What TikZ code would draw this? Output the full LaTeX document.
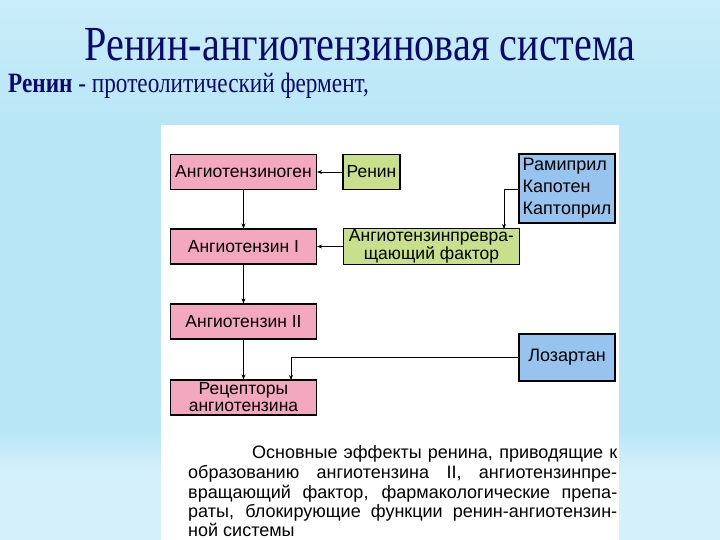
\documentclass[tikz,border=0pt]{standalone}
\usepackage{fontspec}
\setmainfont{Liberation Serif}
\newfontfamily\boxfont{Liberation Sans}
\newfontfamily\capfont{Liberation Sans}
\usetikzlibrary{arrows.meta}
\definecolor{navy}{RGB}{10,10,110}
\definecolor{pinkbox}{RGB}{244,168,192}
\definecolor{greenbox}{RGB}{200,224,140}
\definecolor{bluebox}{RGB}{150,196,238}
\definecolor{bg0}{RGB}{190,230,245}
\definecolor{bg1}{RGB}{215,240,250}
\definecolor{bg2}{RGB}{240,249,252}
\definecolor{bg3}{RGB}{200,236,248}
\definecolor{bg4}{RGB}{184,230,246}
\definecolor{bg5}{RGB}{212,240,250}
\pgfdeclareverticalshading{bgsh}{100bp}{%
  color(0bp)=(bg4); color(16.7bp)=(bg4); color(20.4bp)=(bg5); color(31.5bp)=(bg5);
  color(35.2bp)=(bg4); color(63bp)=(bg4); color(74bp)=(bg3); color(82.4bp)=(bg2);
  color(92.6bp)=(bg1); color(100bp)=(bg0)}
\tikzset{
  box/.style={draw=black, line width=1.2pt, minimum height=35pt, inner sep=2pt, align=center,
    font=\boxfont\fontsize{17.5}{16}\selectfont},
  pinkb/.style={box, fill=pinkbox, minimum width=146pt},
  arr/.style={line width=0.9pt, -{Stealth[length=5pt,width=4pt]}},
}
\begin{document}
\begin{tikzpicture}[x=1pt,y=-1pt]
\useasboundingbox (0,0) rectangle (720,540);
\shade[shading=bgsh] (0,0) rectangle (720,540);
\fill[white] (161,125) rectangle (619,540);

\node[anchor=base, text=navy, inner sep=0pt, font=\fontsize{49}{50}\selectfont] (title) at (360,61) {\scalebox{0.82}[1]{Ренин-ангиотензиновая система}};
\node[anchor=base west, text=navy, inner sep=0pt, font=\fontsize{28}{30}\selectfont] (sub) at (8,93) {\scalebox{0.83}[1]{\textbf{Ренин} - протеолитический фермент,}};

\node[pinkb] (agn) at (243.5,172) {Ангиотензиноген};
\node[pinkb] (a1) at (243.5,246.5) {Ангиотензин I};
\node[pinkb] (a2) at (243.5,321.5) {Ангиотензин II};
\node[pinkb, inner sep=1pt, font=\boxfont\fontsize{17.5}{17}\selectfont] (rec) at (243.5,397.5) {Рецепторы\\ангиотензина};

\node[box, fill=greenbox, minimum width=57pt] (ren) at (371.5,172) {Ренин};
\node[box, fill=greenbox, minimum width=176pt, inner sep=1pt] (ace) at (431.5,246.5) {Ангиотензинпревра-\\щающий фактор};
\node[box, fill=bluebox, minimum width=96pt, minimum height=69pt, align=left, inner sep=3pt,
  font=\boxfont\fontsize{18}{22}\selectfont] (inh) at (567,188.5) {Рамиприл\\Капотен\\Каптоприл};
\node[box, fill=bluebox, minimum width=96pt, minimum height=47pt,
  font=\boxfont\fontsize{18}{22}\selectfont] (loz) at (567,357.5) {Лозартан};

\draw[arr] (agn) -- (a1);
\draw[arr] (a1) -- (a2);
\draw[arr] (a2) -- (rec);
\draw[arr] (ren) -- (agn);
\draw[arr] (ace) -- (a1);
\draw[arr] (inh.west |- 0,189) -| (504,229) coordinate (aceTop);
\draw[arr] (loz.west) -| (291,380) coordinate (recTop);

\begin{scope}[font=\capfont\fontsize{18}{20}\selectfont]
\node[anchor=base west, inner sep=0pt] (c1) at (252,458) {\makebox[365pt][s]{Основные эффекты ренина, приводящие к}};
\node[anchor=base west, inner sep=0pt] (c2) at (188,478) {\makebox[429pt][s]{образованию ангиотензина II, ангиотензинпре-}};
\node[anchor=base west, inner sep=0pt] (c3) at (188,498) {\makebox[429pt][s]{вращающий фактор, фармакологические препа-}};
\node[anchor=base west, inner sep=0pt] (c4) at (188,517) {\makebox[429pt][s]{раты, блокирующие функции ренин-ангиотензин-}};
\node[anchor=base west, inner sep=0pt] (c5) at (188,536) {ной системы};
\end{scope}
\end{tikzpicture}
\end{document}
